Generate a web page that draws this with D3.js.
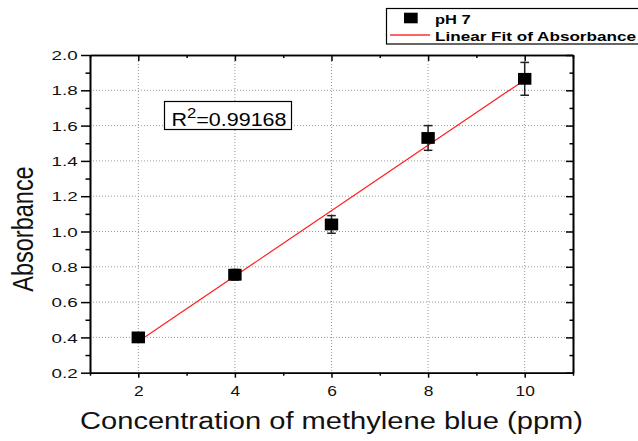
<!DOCTYPE html>
<html>
<head>
<meta charset="utf-8">
<script src="https://cdn.jsdelivr.net/npm/d3@7"></script>
<style>
  body { margin: 0; background: #fff; }
  text { font-family: "Liberation Sans", Arial, sans-serif; }
</style>
</head>
<body>
<div id="main"></div>
<script>
const w = 638;
const h = 441;

// data
const conc = [2, 4, 6, 8, 10];
const absorbance = [0.40, 0.755, 1.04, 1.53, 1.865];
const errors = [0.01, 0.03, 0.05, 0.07, 0.093];
const xTicks = [2, 4, 6, 8, 10];
const yTicks = [0.2, 0.4, 0.6, 0.8, 1.0, 1.2, 1.4, 1.6, 1.8, 2.0];
const xMinor = [1, 3, 5, 7, 9, 11];
const yMinor = [0.3, 0.5, 0.7, 0.9, 1.1, 1.3, 1.5, 1.7, 1.9];
const rSquared = "0.99168";

const plotL = 90, plotR = 573, plotT = 55, plotB = 372.7;
const stretch = 1.22; // the picture is wider than tall text suggests

const svg = d3.select("#main")
  .append("svg")
  .attr("width", w)
  .attr("height", h);

const x = d3.scaleLinear().domain([1, 11]).range([plotL, plotR]);
const y = d3.scaleLinear().domain([0.2, 2.0]).range([plotB, plotT]);

// least squares fit
const mx = d3.mean(conc), my = d3.mean(absorbance);
const slope = d3.sum(conc, (c, i) => (c - mx) * (absorbance[i] - my)) / d3.sum(conc, c => (c - mx) * (c - mx));
const intercept = my - slope * mx;

// dotted grid
svg.append("g").selectAll("line")
  .data(xTicks)
  .enter().append("line")
  .attr("x1", d => x(d)).attr("x2", d => x(d))
  .attr("y1", plotT).attr("y2", plotB)
  .style("stroke", "#999").style("stroke-width", 1).style("stroke-dasharray", "1,2");

svg.append("g").selectAll("line")
  .data(yTicks.slice(1, -1))
  .enter().append("line")
  .attr("x1", plotL).attr("x2", plotR)
  .attr("y1", d => y(d)).attr("y2", d => y(d))
  .style("stroke", "#999").style("stroke-width", 1).style("stroke-dasharray", "1,2");

// axes: outward on bottom/left, inward on top/right
const gx = svg.append("g").attr("transform", "translate(0," + plotB + ")")
  .call(d3.axisBottom(x).tickValues(xTicks).tickSize(5).tickPadding(8).tickSizeOuter(0));
const gxm = svg.append("g").attr("transform", "translate(0," + plotB + ")")
  .call(d3.axisBottom(x).tickValues(xMinor).tickSize(3).tickFormat("").tickSizeOuter(0));
const gy = svg.append("g").attr("transform", "translate(" + plotL + ",0)")
  .call(d3.axisLeft(y).tickValues(yTicks).tickSize(9).tickPadding(3).tickFormat(d3.format(".1f")).tickSizeOuter(0));
const gym = svg.append("g").attr("transform", "translate(" + plotL + ",0)")
  .call(d3.axisLeft(y).tickValues(yMinor).tickSize(4.5).tickFormat("").tickSizeOuter(0));
const gt = svg.append("g").attr("transform", "translate(0," + plotT + ")")
  .call(d3.axisBottom(x).tickValues(xTicks).tickSize(6).tickFormat("").tickSizeOuter(0));
const gtm = svg.append("g").attr("transform", "translate(0," + plotT + ")")
  .call(d3.axisBottom(x).tickValues(xMinor).tickSize(3).tickFormat("").tickSizeOuter(0));
const gr = svg.append("g").attr("transform", "translate(" + plotR + ",0)")
  .call(d3.axisLeft(y).tickValues(yTicks).tickSize(7).tickFormat("").tickSizeOuter(0));
const grm = svg.append("g").attr("transform", "translate(" + plotR + ",0)")
  .call(d3.axisLeft(y).tickValues(yMinor).tickSize(3.5).tickFormat("").tickSizeOuter(0));

[gx, gxm, gy, gym, gt, gtm, gr, grm].forEach(g => {
  g.select(".domain").style("stroke", "#000").style("stroke-width", 1.6);
  g.selectAll(".tick line").style("stroke", "#000").style("stroke-width", 1.5);
});

gx.selectAll(".tick text")
  .style("font-size", "15px").style("fill", "#111")
  .attr("y", 0).attr("dy", 0)
  .attr("transform", "translate(0,23.3) scale(1.16,1)");
gy.selectAll(".tick text")
  .style("font-size", "13px").style("fill", "#111")
  .attr("x", 0).attr("dy", "0.36em")
  .attr("transform", "translate(-12.3,0) scale(1.45,1)");

// fit line
svg.append("line")
  .attr("x1", x(conc[0])).attr("y1", y(slope * conc[0] + intercept))
  .attr("x2", x(conc[conc.length - 1])).attr("y2", y(slope * conc[conc.length - 1] + intercept))
  .style("stroke", "#ff2020").style("stroke-width", 1.2);

// error bars
const pts = conc.map((c, i) => ({ c: c, a: absorbance[i], e: errors[i] }));
const eb = svg.append("g").selectAll("g")
  .data(pts)
  .enter().append("g")
  .style("stroke", "#222").style("stroke-width", 1.5);
eb.append("line")
  .attr("x1", d => x(d.c)).attr("x2", d => x(d.c))
  .attr("y1", d => y(d.a - d.e)).attr("y2", d => y(d.a + d.e));
eb.append("line")
  .attr("x1", d => x(d.c) - 4.3).attr("x2", d => x(d.c) + 4.3)
  .attr("y1", d => y(d.a + d.e)).attr("y2", d => y(d.a + d.e));
eb.append("line")
  .attr("x1", d => x(d.c) - 4.3).attr("x2", d => x(d.c) + 4.3)
  .attr("y1", d => y(d.a - d.e)).attr("y2", d => y(d.a - d.e));

// markers
svg.append("g").selectAll("rect")
  .data(pts)
  .enter().append("rect")
  .attr("x", d => x(d.c) - 6.7).attr("y", d => y(d.a) - 5.9)
  .attr("width", 13.4).attr("height", 11.8)
  .style("fill", "#000");

// R^2 box
svg.append("rect")
  .attr("x", 164.5).attr("y", 101.5).attr("width", 127).attr("height", 28)
  .style("fill", "#fff").style("stroke", "#000").style("stroke-width", 1.2);
const rt = svg.append("text").attr("x", 171.5).attr("y", 125.7)
  .style("font-size", "18px")
  .attr("textLength", 115).attr("lengthAdjust", "spacingAndGlyphs");
rt.append("tspan").text("R");
rt.append("tspan").attr("dy", -8).style("font-size", "14px").text("2");
rt.append("tspan").attr("dy", 8).text("=" + rSquared);

// legend
svg.append("rect")
  .attr("x", 386.5).attr("y", 8.5).attr("width", 260).attr("height", 35.5)
  .style("fill", "#fff").style("stroke", "#000").style("stroke-width", 1.2);
svg.append("rect")
  .attr("x", 404).attr("y", 12.7).attr("width", 13.7).attr("height", 10.6)
  .style("fill", "#000");
svg.append("line")
  .attr("x1", 390).attr("x2", 430).attr("y1", 35).attr("y2", 35)
  .style("stroke", "#ff3030").style("stroke-width", 1.4);
svg.append("text").attr("x", 435).attr("y", 23.5)
  .style("font-size", "12.5px").style("font-weight", "bold")
  .attr("textLength", 35.7).attr("lengthAdjust", "spacingAndGlyphs")
  .text("pH 7");
svg.append("text").attr("x", 435).attr("y", 40.5)
  .style("font-size", "12.5px").style("font-weight", "bold")
  .attr("textLength", 201).attr("lengthAdjust", "spacingAndGlyphs")
  .text("Linear Fit of Absorbance");

// axis titles
svg.append("text")
  .attr("x", 80).attr("y", 429.3)
  .style("font-size", "23.5px").style("fill", "#111")
  .attr("textLength", 503).attr("lengthAdjust", "spacingAndGlyphs")
  .text("Concentration of methylene blue (ppm)");
svg.append("text")
  .attr("transform", "translate(33.3,229) scale(" + stretch + ",1) rotate(-90)")
  .attr("text-anchor", "middle")
  .style("font-size", "23.5px").style("fill", "#111")
  .text("Absorbance");
</script>
</body>
</html>
